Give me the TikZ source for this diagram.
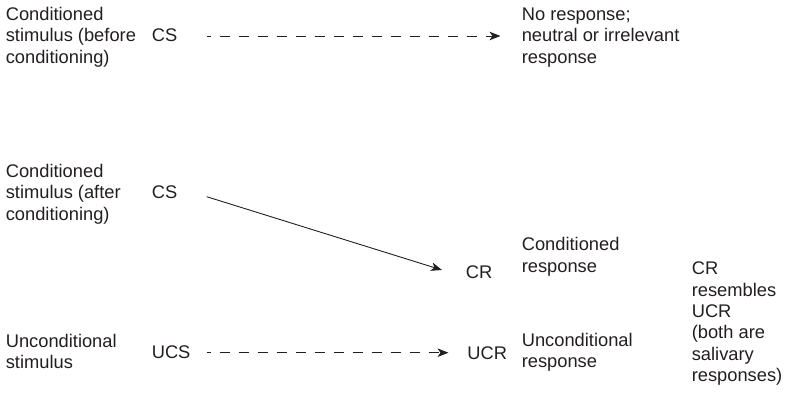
\documentclass[tikz,border=0pt]{standalone}
\usepackage{fontspec}
\setmainfont{Liberation Sans}
\usetikzlibrary{arrows.meta}
\definecolor{ink}{HTML}{231F20}
\begin{document}
\begin{tikzpicture}[x=1pt,y=1pt,
  lbl/.style={anchor=base west, inner sep=0pt, outer sep=0pt, align=left, text=ink,
    font=\fontsize{18.3pt}{21.3pt}\selectfont},
  tipstyle/.style={-{Stealth[length=11pt,width=8.5pt,inset=3pt]}},
  dasharr/.style={tipstyle, draw=ink, line width=0.9pt, dash pattern=on 10pt off 9pt, dash phase=6pt},
  solidarr/.style={tipstyle, draw=ink, line width=0.9pt}]
\useasboundingbox (0,0) rectangle (788,396);
% row 1 (multi-line nodes are anchored on the baseline of their last line)
\node[lbl] (t1) at (5.8,332.7) {Conditioned\\stimulus (before\\conditioning)};
\node[lbl] (cs1) at (151.8,354) {CS};
\node[lbl] (nr) at (521.8,332.7) {No response;\\neutral or irrelevant\\response};
\coordinate (a1s) at (206.7,360);
\coordinate (a1e) at (500.5,360);
\draw[dasharr] (a1s) -- (a1e);
% row 2
\node[lbl] (t2) at (5.8,175.7) {Conditioned\\stimulus (after\\conditioning)};
\node[lbl] (cs2) at (151.8,197) {CS};
\node[lbl] (cr) at (465.8,117.7) {CR};
\node[lbl] (crl) at (521.8,123.7) {Conditioned\\response};
\coordinate (a2s) at (206.7,199.3);
\coordinate (a2e) at (442,126);
\draw[solidarr] (a2s) -- (a2e);
% row 3
\node[lbl] (t3) at (5.8,27.4) {Unconditional\\stimulus};
\node[lbl] (ucs) at (151.8,37) {UCS};
\node[lbl] (ucr) at (467.4,36.7) {UCR};
\node[lbl] (ucrl) at (521.8,28) {Unconditional\\response};
\coordinate (a3s) at (206.7,43.3);
\coordinate (a3e) at (448.5,43.3);
\draw[dasharr] (a3s) -- (a3e);
% note
\node[lbl] (res) at (691.8,14.5) {CR\\resembles\\UCR\\(both are\\salivary\\responses)};
\end{tikzpicture}
\end{document}
